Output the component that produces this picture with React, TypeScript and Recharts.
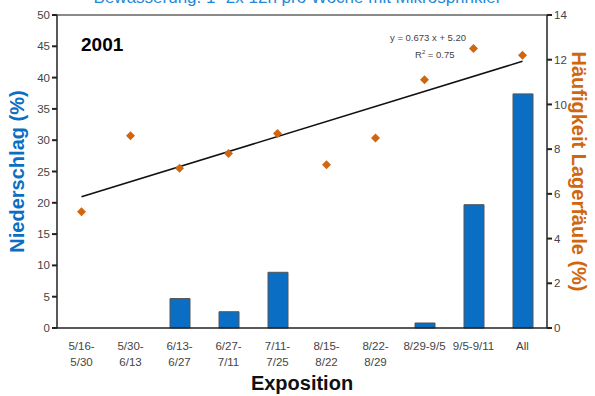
import React from 'react';
import {
  ComposedChart,
  Bar,
  Scatter,
  Line,
  XAxis,
  YAxis,
  Label,
  ReferenceLine,
} from 'recharts';

// Exposition periods (2001)
const categories = [
  '5/16-\n5/30',
  '5/30-\n6/13',
  '6/13-\n6/27',
  '6/27-\n7/11',
  '7/11-\n7/25',
  '8/15-\n8/22',
  '8/22-\n8/29',
  '8/29-9/5',
  '9/5-9/11',
  'All',
];
// Niederschlag (%) - left axis
const niederschlag = [0, 0, 4.7, 2.6, 8.9, 0, 0, 0.8, 19.7, 37.4];
// Häufigkeit Lagerfäule (%) - right axis
const lagerfaeule = [5.2, 8.6, 7.15, 7.8, 8.7, 7.3, 8.5, 11.1, 12.5, 12.2];
// trend line end points
const trend = [5.87, null, null, null, null, null, null, null, null, 11.93];

const leftTicks = [0, 5, 10, 15, 20, 25, 30, 35, 40, 45, 50];
const rightTicks = [0, 2, 4, 6, 8, 10, 12, 14];
const boundaryTicks = [0, 1, 2, 3, 4, 5, 6, 7, 8, 9, 10];

const data = categories.map((name, i) => ({
  name,
  rain: niederschlag[i],
  rot: lagerfaeule[i],
  trend: trend[i],
}));

const FONT = '"Liberation Sans", Arial, sans-serif';
const BLUE = '#0a6fc4';
const ORANGE = '#d0670f';

const CatTick = ({ x, y, payload }: any) => {
  const lines = String(payload.value).split('\n');
  return (
    <text x={x} y={y + 14} textAnchor="middle" fill="#444" fontSize={11.5} fontFamily={FONT}>
      {lines.map((l, i) => (
        <tspan key={i} x={x} dy={i === 0 ? 0 : 16}>{l}</tspan>
      ))}
    </text>
  );
};

// small square diamond like the original marker
const Diamond = ({ cx, cy }: any) => {
  const r = 4.5;
  return (
    <polygon
      points={`${cx},${cy - r} ${cx + r},${cy} ${cx},${cy + r} ${cx - r},${cy}`}
      fill={ORANGE}
    />
  );
};

const App = () => {
  return (
    <div style={{ position: 'absolute', left: 0, top: 0, width: 595, height: 396, background: '#fff', overflow: 'hidden', fontFamily: FONT }}>
      <div style={{ position: 'absolute', left: 0, width: 595, top: -12, textAlign: 'center', color: '#1f88d8', fontSize: 17, whiteSpace: 'nowrap' }}>
        Bewässerung: 1- 2x 12h pro Woche mit Mikrosprinkler
      </div>
      <ComposedChart
        width={595}
        height={396}
        data={data}
        margin={{ top: 15, right: 0, bottom: 0, left: 0 }}
        style={{ position: 'absolute', left: 0, top: 0 }}
      >
        <XAxis
          xAxisId="num"
          type="number"
          domain={[0, 10]}
          ticks={boundaryTicks}
          tick={false}
          tickSize={5}
          height={0}
          axisLine={false}
          tickLine={{ stroke: '#222', strokeWidth: 2 }}
        />
        <XAxis
          xAxisId="cat"
          dataKey="name"
          interval={0}
          height={68}
          tickLine={false}
          axisLine={{ stroke: '#222', strokeWidth: 1.5 }}
          tick={<CatTick />}
        >
          <Label
            content={({ viewBox }: any) => (
              <text x={viewBox.x + viewBox.width / 2} y={viewBox.y + 62} textAnchor="middle" fontSize={20} fontWeight="bold" fill="#111" fontFamily={FONT}>
                Exposition
              </text>
            )}
          />
        </XAxis>
        <YAxis
          yAxisId="left"
          domain={[0, 50]}
          ticks={leftTicks}
          width={57}
          tickSize={5}
          tickLine={{ stroke: '#222', strokeWidth: 2 }}
          axisLine={{ stroke: '#222', strokeWidth: 1.5 }}
          tick={{ fill: '#444', fontSize: 11.5, fontFamily: FONT }}
        >
          <Label
            content={({ viewBox }: any) => {
              const cx = viewBox.x + 17;
              const cy = viewBox.y + viewBox.height / 2;
              return (
                <text x={cx} y={cy} transform={`rotate(-90 ${cx} ${cy})`} textAnchor="middle" dominantBaseline="central" fontSize={20} fontWeight="bold" fill={BLUE} fontFamily={FONT}>
                  Niederschlag (%)
                </text>
              );
            }}
          />
        </YAxis>
        <YAxis
          yAxisId="right"
          orientation="right"
          domain={[0, 14]}
          ticks={rightTicks}
          width={48}
          tickSize={5}
          tickLine={{ stroke: '#222', strokeWidth: 2 }}
          axisLine={{ stroke: '#222', strokeWidth: 1.5 }}
          tick={{ fill: '#444', fontSize: 11.5, fontFamily: FONT }}
        >
          <Label
            content={({ viewBox }: any) => {
              const cx = viewBox.x + 32;
              const cy = viewBox.y + viewBox.height / 2;
              return (
                <text x={cx} y={cy} transform={`rotate(90 ${cx} ${cy})`} textAnchor="middle" dominantBaseline="central" fontSize={20} fontWeight="bold" fill={ORANGE} fontFamily={FONT}>
                  Häufigkeit Lagerfäule (%)
                </text>
              );
            }}
          />
        </YAxis>
        <ReferenceLine yAxisId="left" xAxisId="cat" y={50} stroke="#8a8a8a" strokeWidth={2} />
        <Bar
          xAxisId="cat"
          yAxisId="left"
          dataKey="rain"
          fill={BLUE}
          stroke="#555"
          strokeWidth={1}
          barSize={20}
          isAnimationActive={false}
        />
        <Line
          xAxisId="cat"
          yAxisId="right"
          dataKey="trend"
          stroke="#111"
          strokeWidth={1.6}
          dot={false}
          activeDot={false}
          connectNulls
          isAnimationActive={false}
        />
        <Scatter
          xAxisId="cat"
          yAxisId="right"
          dataKey="rot"
          fill={ORANGE}
          shape={<Diamond />}
          isAnimationActive={false}
        />
      </ComposedChart>
      <div style={{ position: 'absolute', left: 75, top: 30, width: 147, height: 30, background: '#fff' }}>
        <span style={{ position: 'absolute', left: 6, top: 4, fontSize: 19, fontWeight: 'bold', color: '#000' }}>2001</span>
      </div>
      <div style={{ position: 'absolute', left: 390, top: 30, width: 100, fontSize: 9.5, color: '#444', lineHeight: '15px' }}>
        <div>y = 0.673 x + 5.20</div>
        <div style={{ paddingLeft: 25 }}>R<sup style={{ fontSize: 6 }}>2</sup> = 0.75</div>
      </div>
    </div>
  );
};

export default App;
